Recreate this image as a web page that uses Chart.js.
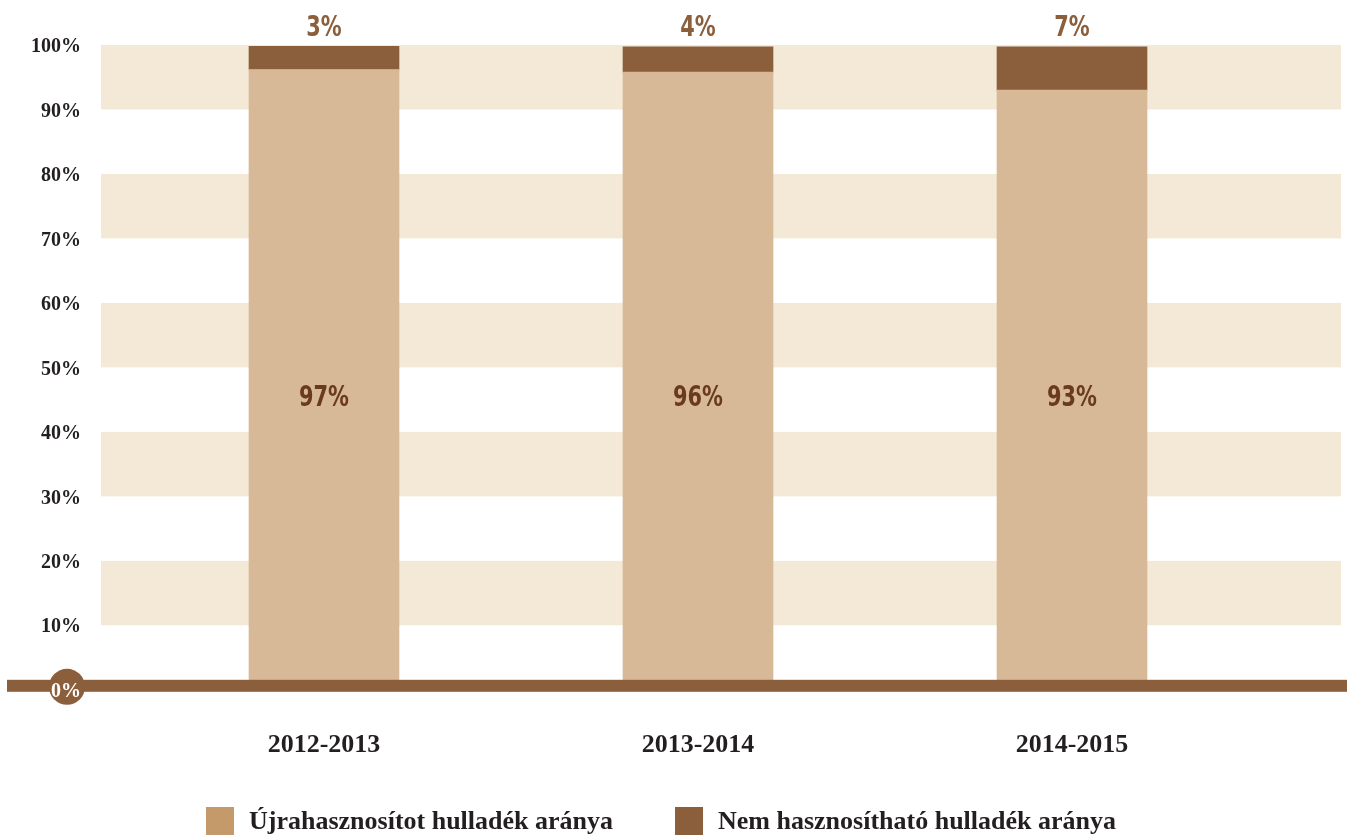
<!DOCTYPE html>
<html lang="hu">
<head>
<meta charset="utf-8">
<title>Hulladék arányok</title>
<script src="https://cdn.jsdelivr.net/npm/chart.js@4.4.1/dist/chart.umd.min.js"></script>
<style>
  html, body { margin: 0; padding: 0; background: #fff; }
  #wrap { width: 1352px; height: 839px; position: relative; }
</style>
</head>
<body>
<div id="wrap"><canvas id="wasteChart"></canvas></div>
<script>
// Adatok
const periods = ['2012-2013', '2013-2014', '2014-2015'];
const reusedShare = [96.2, 95.8, 93.0];
const unusableShare = [3.6, 3.9, 6.7];
const reusedText = ['97%', '96%', '93%'];
const unusableText = ['3%', '4%', '7%'];
const yTicks = [0, 10, 20, 30, 40, 50, 60, 70, 80, 90, 100];
const seriesNames = ['Újrahasznosítot hulladék aránya', 'Nem hasznosítható hulladék aránya'];

// Színek, betűk
const BAND = '#f4e9d6';
const LIGHT = '#d7b998';
const DARK = '#8b5e3c';
const LEGEND_COLORS = ['#c59a6b', DARK];
const TEXT = '#231f20';
const SERIF = "'Liberation Serif', 'Times New Roman', serif";
const NARROW = "'Liberation Sans Narrow', 'DejaVu Sans Condensed', sans-serif";

// keskenyített felirat
function narrowText(ctx, text, x, y) {
    ctx.save();
    ctx.translate(x, y);
    ctx.scale(0.8, 1);
    ctx.fillText(text, 0, 0);
    ctx.restore();
}

// Sávok, alapvonal, feliratok, jelmagyarázat
const decor = {
    id: 'decor',
    beforeDatasetsDraw(chart) {
        const { ctx, chartArea, scales: { y } } = chart;
        ctx.save();
        ctx.fillStyle = BAND;
        for (let v = 10; v < 100; v += 20) {
            const top = y.getPixelForValue(v + 10);
            const bottom = y.getPixelForValue(v);
            ctx.fillRect(chartArea.left - 36, top, chartArea.right - chartArea.left + 118, bottom - top);
        }
        ctx.restore();
    },
    afterDatasetsDraw(chart) {
        const { ctx, chartArea, scales: { y } } = chart;
        const y0 = y.getPixelForValue(0);
        ctx.save();
        ctx.fillStyle = DARK;
        ctx.fillRect(chartArea.left - 130, y0 - 10, chartArea.right - chartArea.left + 218, 12);
        ctx.beginPath();
        ctx.arc(chartArea.left - 70, y0 - 3, 18, 0, Math.PI * 2);
        ctx.fill();

        ctx.font = 'bold 29px ' + NARROW;
        ctx.textAlign = 'center';
        ctx.textBaseline = 'middle';
        chart.getDatasetMeta(0).data.forEach((bar, i) => {
            ctx.fillStyle = '#6a3a1c';
            narrowText(ctx, reusedText[i], bar.x, y.getPixelForValue(45.5) + 2);
        });
        chart.getDatasetMeta(1).data.forEach((bar, i) => {
            ctx.fillStyle = DARK;
            narrowText(ctx, unusableText[i], bar.x, bar.y - 18);
        });
        ctx.restore();
    },
    afterDraw(chart) {
        const { ctx } = chart;
        ctx.save();
        ctx.font = 'bold 26px ' + SERIF;
        ctx.textAlign = 'left';
        ctx.textBaseline = 'middle';
        const box = 28, gapText = 15, gapItem = 62;
        const items = chart.data.datasets.map((ds, i) => ({
            text: ds.label,
            color: LEGEND_COLORS[i],
            w: ctx.measureText(ds.label).width
        }));
        const total = items.reduce((s, it) => s + box + gapText + it.w, 0) + gapItem * (items.length - 1);
        let x = chart.width / 2 - 15 - total / 2;
        const top = chart.height - 32;
        items.forEach(it => {
            ctx.fillStyle = it.color;
            ctx.fillRect(x, top, box, box);
            ctx.fillStyle = TEXT;
            ctx.fillText(it.text, x + box + gapText, top + box / 2 + 1);
            x += box + gapText + it.w + gapItem;
        });
        ctx.restore();
    }
};

const ctx = document.getElementById('wasteChart').getContext('2d');
new Chart(ctx, {
    type: 'bar',
    data: {
        labels: periods,
        datasets: [{
            label: seriesNames[0],
            data: reusedShare,
            backgroundColor: LIGHT,
            borderWidth: 0,
            barThickness: 150
        }, {
            label: seriesNames[1],
            data: unusableShare,
            backgroundColor: DARK,
            borderWidth: 0,
            barThickness: 150
        }]
    },
    options: {
        responsive: true,
        maintainAspectRatio: false,
        animation: false,
        layout: {
            padding: { top: 45, left: 0, right: 93, bottom: 38 }
        },
        plugins: {
            tooltip: { enabled: false },
            legend: { display: false }
        },
        scales: {
            x: {
                stacked: true,
                grid: { display: false, drawTicks: false },
                border: { display: false },
                ticks: {
                    padding: 40,
                    color: TEXT,
                    font: { family: SERIF, size: 26, weight: 'bold' }
                }
            },
            y: {
                stacked: true,
                min: 0,
                max: 100,
                grid: { display: false, drawTicks: false },
                border: { display: false },
                afterBuildTicks(scale) { scale.ticks = yTicks.map(v => ({ value: v })); },
                afterFit(scale) {
                    scale.width = 137;
                    scale.paddingTop = 0;
                    scale.paddingBottom = 0;
                },
                ticks: {
                    z: 1,
                    padding: 56,
                    labelOffset: 2,
                    color: c => c.tick.value === 0 ? '#ffffff' : TEXT,
                    font: { family: SERIF, size: 20, weight: 'bold' },
                    callback: v => v + '%'
                }
            }
        }
    },
    plugins: [decor]
});
</script>
</body>
</html>
